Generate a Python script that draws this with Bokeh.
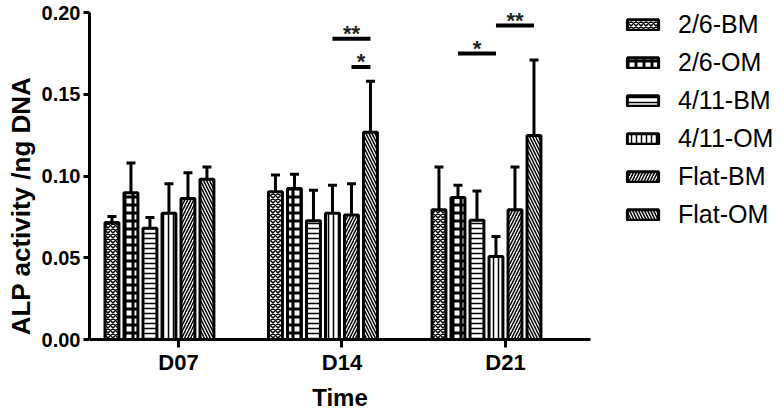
from bokeh.plotting import figure
from bokeh.models import (ColumnDataSource, Whisker, TeeHead, FixedTicker,
                          PrintfTickFormatter, Legend, LegendItem)
from bokeh.embed import file_html
from bokeh.resources import INLINE
from bokeh.core.properties import value

# ---- data -------------------------------------------------------------
groups = ["D07", "D14", "D21"]
series = ["2/6-BM", "2/6-OM", "4/11-BM", "4/11-OM", "Flat-BM", "Flat-OM"]

bm26 = [0.0715, 0.0904, 0.0793]
om26 = [0.0898, 0.0923, 0.0868]
bm411 = [0.0680, 0.0726, 0.0730]
om411 = [0.0772, 0.0772, 0.0508]
flatbm = [0.0862, 0.0762, 0.0793]
flatom = [0.0980, 0.1268, 0.1248]

bm26_err = [0.0037, 0.0102, 0.0262]
om26_err = [0.0182, 0.0087, 0.0075]
bm411_err = [0.0066, 0.0187, 0.0179]
om411_err = [0.0181, 0.0171, 0.0122]
flatbm_err = [0.0158, 0.0191, 0.0262]
flatom_err = [0.0075, 0.0312, 0.0462]

# significance brackets: group index, from series, to series, height, label
sig_group = [1, 1, 2, 2]
sig_from = [3, 4, 1, 3]
sig_to = [5, 5, 3, 5]
sig_y = [0.184, 0.1667, 0.175, 0.192]
sig_text = ["**", "*", "*", "**"]

y_ticks = [0.0, 0.05, 0.10, 0.15, 0.20]
y_lo, y_hi = 0.0, 0.20
x_lo, x_hi = -0.544, 2.52

means = [bm26, om26, bm411, om411, flatbm, flatom]
errs = [bm26_err, om26_err, bm411_err, om411_err, flatbm_err, flatom_err]
hatches = ["x", "+", "-", "|", "/", "\\"]
hscale = [5, 8, 5, 5, 6, 6]
hweight = [1.5, 3, 1.5, 1.5, 1.5, 1.5]

step = 0.1162
bar_w = 0.085
FONT = "Liberation Sans"

# pixel layout: axis x from 89 to 590, y=0 at 339, y=0.2 at 12
W, H = 781, 411
left_px, right_px, top_px, bot_px = 89, 590, 12, 339
xs_per_px = (x_hi - x_lo) / (right_px - left_px)
ys_per_px = (y_hi - y_lo) / (bot_px - top_px)
xr = (x_lo, x_hi + (W - right_px) * xs_per_px)
yr = (y_lo - (H - bot_px) * ys_per_px, y_hi + top_px * ys_per_px)

p = figure(width=W, height=H, x_range=xr, y_range=yr,
           output_backend="svg", toolbar_location=None,
           min_border_left=left_px, min_border_right=0,
           min_border_top=0, min_border_bottom=0)
p.outline_line_color = None
p.xgrid.visible = False
p.ygrid.visible = False
p.background_fill_color = "white"
p.border_fill_color = "white"

gx = list(range(len(groups)))
def offs(i):
    return (i - 3.5) * step

items = []
for i, s in enumerate(series):
    xs = [g + offs(i) for g in gx]
    src = ColumnDataSource(dict(x=xs, top=means[i],
                                up=[m + e for m, e in zip(means[i], errs[i])]))
    w = Whisker(base="x", lower="top", upper="up", source=src,
                line_color="black", line_width=3,
                upper_head=TeeHead(size=9, line_width=3, line_color="black"),
                lower_head=None)
    p.add_layout(w)
    r = p.vbar(x="x", top="top", width=bar_w, bottom=0, source=src,
               fill_color="white", line_color="black", line_width=3,
               hatch_pattern=hatches[i], hatch_color="black",
               hatch_scale=hscale[i], hatch_weight=hweight[i])
    items.append(LegendItem(label=s, renderers=[r]))

# significance lines and stars
sx0 = [g + offs(a) for g, a in zip(sig_group, sig_from)]
sx1 = [g + offs(b) for g, b in zip(sig_group, sig_to)]
smid = [(a + b) / 2 for a, b in zip(sx0, sx1)]
ssrc = ColumnDataSource(dict(x0=sx0, x1=sx1, xm=smid, y=sig_y, t=sig_text))
p.segment(x0="x0", y0="y", x1="x1", y1="y", source=ssrc,
          line_color="black", line_width=4)
p.text(x="xm", y="y", text="t", source=ssrc, text_align="center",
       text_baseline="alphabetic", y_offset=-5,
       text_font=value(FONT), text_font_size="22px", text_font_style="bold",
       text_color="#222222")

# axes
p.xaxis.ticker = FixedTicker(ticks=gx)
p.xaxis.major_label_overrides = {i: g for i, g in enumerate(groups)}
p.xaxis.fixed_location = 0
p.xaxis.bounds = (x_lo, x_hi)
p.yaxis.bounds = (y_lo, y_hi)
p.yaxis.ticker = FixedTicker(ticks=y_ticks)
p.yaxis.formatter = PrintfTickFormatter(format="%.2f")
for ax in (p.xaxis, p.yaxis):
    ax.axis_line_width = 3
    ax.axis_line_color = "black"
    ax.major_tick_line_width = 3
    ax.major_tick_line_color = "black"
    ax.major_tick_in = 0
    ax.minor_tick_line_color = None
    ax.major_label_text_font = FONT
    ax.major_label_text_font_style = "bold"
    ax.major_label_text_color = "black"
    ax.axis_label_text_font = FONT
    ax.axis_label_text_font_style = "bold"
    ax.axis_label_text_color = "black"
p.xaxis.major_tick_out = 8
p.yaxis.major_tick_out = 6
p.xaxis.major_label_standoff = 2
p.yaxis.major_label_standoff = 3
p.xaxis.major_label_text_font_size = "22px"
p.yaxis.major_label_text_font_size = "20px"
p.xaxis.axis_label = "Time"
p.yaxis.axis_label = "ALP activity /ng DNA"
p.xaxis.axis_label_text_font_size = "24px"
p.yaxis.axis_label_text_font_size = "26px"
p.xaxis.axis_label_standoff = 6
p.yaxis.axis_label_standoff = 3

legend = Legend(items=items, location=(534, 182),
                glyph_width=39, glyph_height=13, label_standoff=16,
                label_text_font=FONT, label_text_font_size="25px",
                label_text_color="black", spacing=9, padding=0, margin=0,
                border_line_alpha=0, background_fill_alpha=0)
p.add_layout(legend, "center")

open("out.html", "w").write(file_html(p, INLINE))
